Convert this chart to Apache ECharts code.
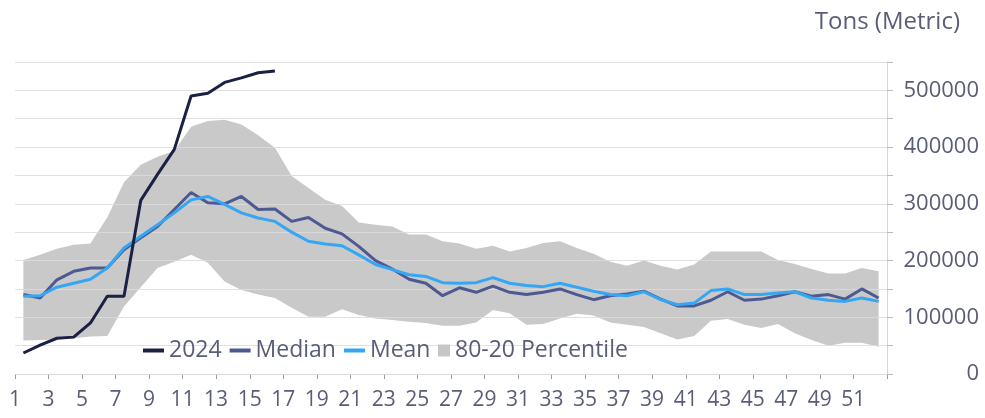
<!DOCTYPE html>
<html>
<head>
<meta charset="utf-8">
<script src="https://cdn.jsdelivr.net/npm/echarts@6/dist/echarts.min.js"></script>
<style>
html,body{margin:0;padding:0;background:#fff;}
#chart{width:985px;height:418px;}
</style>
</head>
<body>
<div id="chart"></div>
<script>
const weeks = ['1','2','3','4','5','6','7','8','9','10','11','12','13','14','15','16','17','18','19','20','21','22','23','24','25','26','27','28','29','30','31','32','33','34','35','36','37','38','39','40','41','42','43','44','45','46','47','48','49','50','51','52'];
const y2024 = [37000,51000,63000,65000,90000,137000,137000,306000,352000,396000,490000,495000,514000,522000,531000,534000];
const median = [140000,134000,166000,181000,187000,187000,219000,240000,260000,290000,
  320000,302000,300000,313000,290000,291000,269000,276000,257000,247000,
  225000,200000,185000,167000,160000,138000,152000,144000,155000,144000,
  140000,144000,150000,140000,131000,138000,141000,146000,132000,120000,
  120000,130000,145000,130000,132000,138000,145000,137000,140000,132000,
  150000,134000];
const mean = [137000,138000,153000,160000,167000,187000,222000,243000,263000,284000,
  307000,313000,299000,284000,275000,269000,250000,234000,229000,226000,
  210000,193000,184000,175000,172000,161000,160000,161000,170000,160000,
  156000,154000,160000,153000,146000,140000,138000,145000,131000,122000,
  125000,147000,150000,140000,140000,143000,145000,134000,130000,128000,
  134000,128000];
const p80 = [201000,210000,221000,228000,230000,276000,338000,369000,383000,393000,
  436000,446000,448000,440000,421000,399000,349000,328000,307000,296000,
  267000,263000,260000,246000,246000,234000,230000,221000,226000,216000,
  222000,231000,234000,222000,212000,198000,191000,200000,191000,184000,
  193000,216000,216000,216000,216000,201000,194000,185000,177000,177000,
  187000,181000];
const p20 = [59000,60000,61000,63000,66000,67000,119000,153000,187000,198000,
  210000,196000,163000,148000,140000,134000,117000,101000,101000,114000,
  104000,98000,95000,92000,90000,85000,85000,91000,113000,107000,
  87000,88000,98000,106000,103000,91000,87000,83000,72000,61000,
  67000,94000,97000,87000,81000,88000,72000,60000,50000,55000,
  55000,48000];
const yTickLabels = ['0','100000','200000','300000','400000','500000'];

const FONT = "'Open Sans', 'Noto Sans', sans-serif";
const TXT = '#5a5d78';
const bandWidth = p80.map((v, i) => v - p20[i]);

const chart = echarts.init(document.getElementById('chart'), null, {renderer: 'canvas'});
chart.setOption({
  animation: false,
  backgroundColor: '#ffffff',
  title: {
    text: 'Tons (Metric)',
    right: 20, top: 5,
    textStyle: {fontFamily: FONT, fontSize: 24, fontWeight: 'normal', color: TXT}
  },
  legend: [
    {
      data: ['2024', 'Median', 'Mean'],
      left: 138, top: 334,
      icon: 'rect', itemWidth: 21, itemHeight: 4, itemGap: 8,
      textStyle: {fontFamily: FONT, fontSize: 23, color: TXT}
    },
    {
      data: ['80-20 Percentile'],
      left: 433, top: 334,
      icon: 'rect', itemWidth: 12, itemHeight: 12, itemGap: 8,
      textStyle: {fontFamily: FONT, fontSize: 23, color: TXT}
    }
  ],
  grid: {left: 15, right: 98, top: 62, bottom: 44, containLabel: false},
  xAxis: {
    type: 'category',
    data: weeks,
    boundaryGap: true,
    axisLine: {show: true, lineStyle: {color: '#d9d9d9', width: 1}},
    axisTick: {show: true, interval: 1, length: 5, lineStyle: {color: '#9a9cab'}},
    axisLabel: {
      interval: 1, margin: 16,
      formatter: v => '{a|' + v + '}',
      rich: {a: {padding: [0, 17, 0, 0], fontFamily: FONT, fontSize: 21, color: TXT}}
    },
    splitLine: {show: false}
  },
  yAxis: {
    type: 'value',
    position: 'right',
    min: 0, max: 550000, interval: 50000,
    z: 3,
    axisLine: {show: true, lineStyle: {color: '#d5d6de', width: 1}},
    axisTick: {show: true, length: 6, lineStyle: {color: '#b8bac8'}},
    axisLabel: {
      margin: 92, align: 'right',
      fontFamily: FONT, fontSize: 22, color: TXT,
      formatter: v => (yTickLabels.indexOf(String(v)) >= 0 ? String(v) : '')
    },
    splitLine: {show: true, lineStyle: {color: 'rgba(220,220,222,0.85)', width: 1.2}}
  },
  series: [
    {
      name: 'lower', type: 'line', stack: 'band', data: p20,
      symbol: 'none', lineStyle: {opacity: 0}, z: 2, silent: true
    },
    {
      name: '80-20 Percentile', type: 'line', stack: 'band', data: bandWidth,
      symbol: 'none', lineStyle: {opacity: 0},
      itemStyle: {color: '#c6c6c6'},
      areaStyle: {color: '#c9c9c9', opacity: 1}, z: 2
    },
    {
      name: 'Median', type: 'line', data: median, symbol: 'none',
      itemStyle: {color: '#4d5a92'}, lineStyle: {color: '#4d5a92', width: 3}, z: 4
    },
    {
      name: 'Mean', type: 'line', data: mean, symbol: 'none',
      itemStyle: {color: '#35a6f4'}, lineStyle: {color: '#35a6f4', width: 3}, z: 5
    },
    {
      name: '2024', type: 'line', data: y2024, symbol: 'none',
      itemStyle: {color: '#1a2142'}, lineStyle: {color: '#1a2142', width: 3}, z: 6
    }
  ]
});
</script>
</body>
</html>
